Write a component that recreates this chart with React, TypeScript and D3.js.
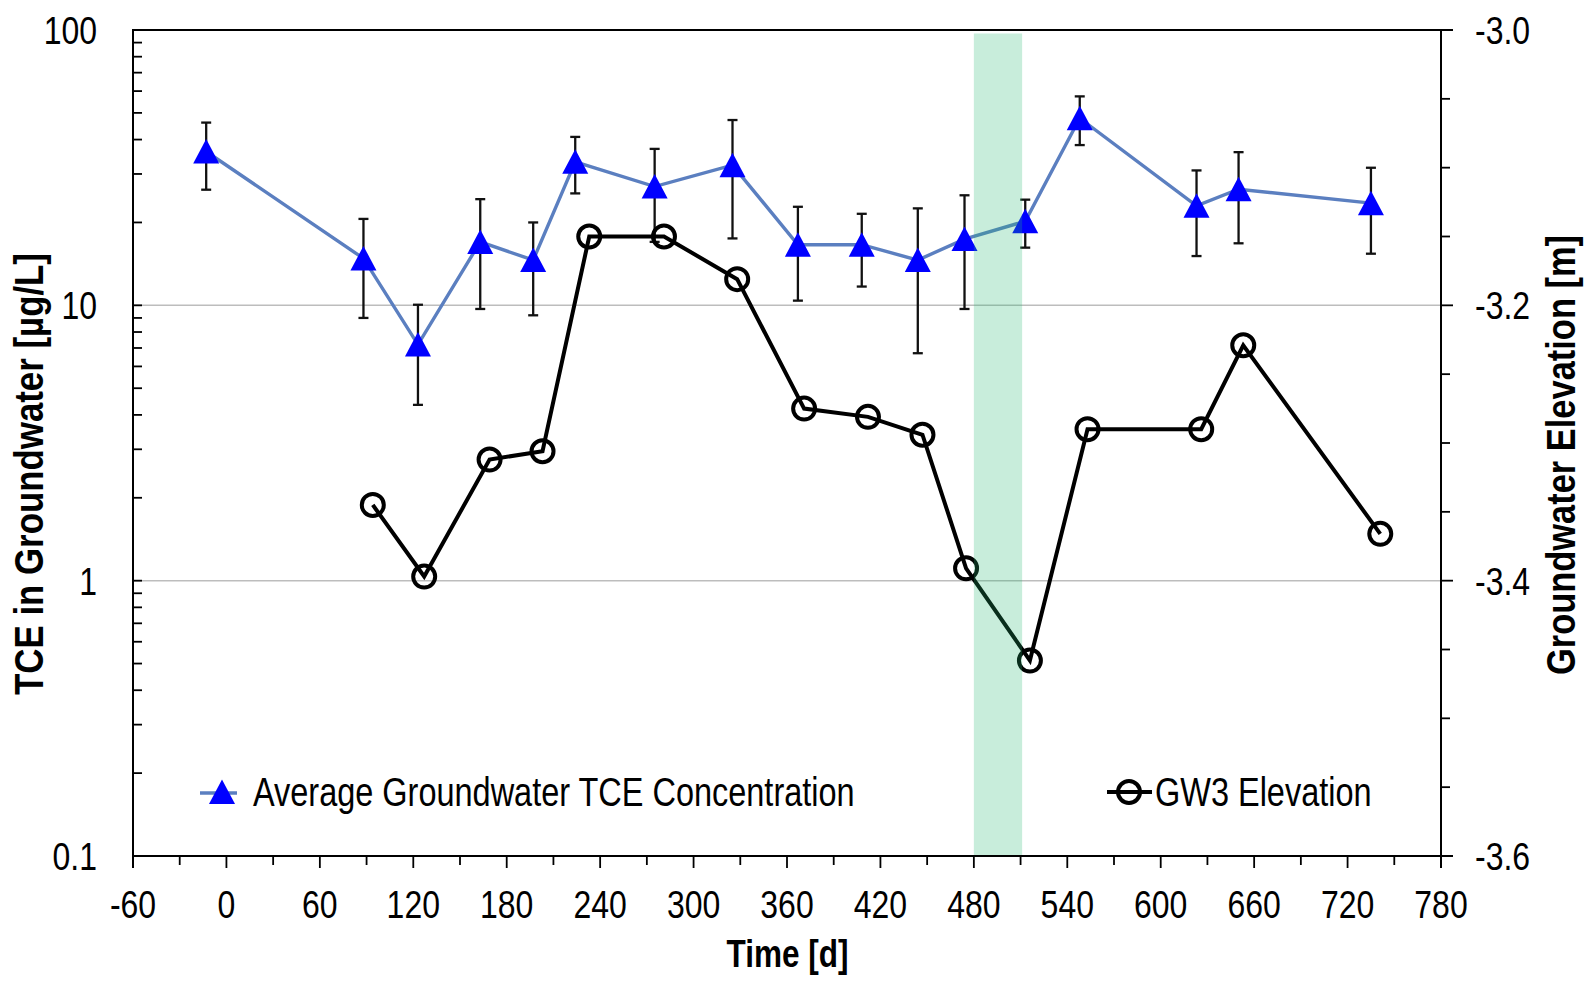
import React from "react";
import * as d3 from "d3";

// ---- data ----
const tceDays = [-13, 88, 123, 163, 197, 224, 275, 325, 367, 408, 444, 474, 513, 548, 623, 650, 735];
const tceValues = [36.2, 14.8, 7.2, 17.0, 14.6, 33.2, 27.0, 32.3, 16.6, 16.6, 14.6, 17.4, 20.2, 47.8, 23.0, 26.4, 23.5];
const tceErrors = [9.9, 5.8, 2.85, 7.3, 5.4, 7.7, 10.0, 14.8, 6.2, 4.9, 7.9, 7.7, 4.0, 9.6, 7.9, 9.6, 8.1];

const elevDays = [94, 127, 169, 203, 233, 281, 328, 371, 412, 447, 475, 516, 553, 626, 653, 741];
const elevValues = [-3.345, -3.397, -3.312, -3.306, -3.15, -3.15, -3.181, -3.275, -3.281, -3.294, -3.391, -3.458, -3.29, -3.29, -3.229, -3.366];

const bandStartDay = 480;
const bandEndDay = 511;

const xTickValues = [-60, 0, 60, 120, 180, 240, 300, 360, 420, 480, 540, 600, 660, 720, 780];
const xTickLabels = ["-60", "0", "60", "120", "180", "240", "300", "360", "420", "480", "540", "600", "660", "720", "780"];
const yLeftTickValues = [0.1, 1, 10, 100];
const yLeftTickLabels = ["0.1", "1", "10", "100"];
const yRightTickValues = [-3.6, -3.4, -3.2, -3.0];
const yRightTickLabels = ["-3.6", "-3.4", "-3.2", "-3.0"];

const seriesNames = ["Average Groundwater TCE Concentration", "GW3 Elevation"];

// ---- layout ----
const W = 1585, H = 981;
const L = 133, R = 1441, T = 30, B = 856;
const FONT = "'Liberation Sans', Arial, sans-serif";
const BLUE_LINE = "rgb(91,127,192)";
const MARKER_BLUE = "#0000ff";

const x = d3.scaleLinear().domain([-60, 780]).range([L, R]);
const yL = d3.scaleLog().domain([0.1, 100]).range([B, T]);
const yR = d3.scaleLinear().domain([-3.6, -3.0]).range([B, T]);

const xMinor = d3.range(-60, 781, 30);
const yLMinor: number[] = [];
[0.1, 1, 10].forEach((dec) => { for (let k = 2; k <= 9; k++) yLMinor.push(dec * k); });
const yRMinor = d3.range(0, 13).map((i) => -3.6 + i * 0.05);

const tri = "M0,-12.5L13,12L-13,12Z";

type NTProps = { x: number; y: number; sx: number; rot?: number; anchor?: string; size: number; bold?: boolean; children: React.ReactNode };
function NText({ x, y, sx, rot = 0, anchor = "start", size, bold, children }: NTProps) {
  return (
    <text transform={`translate(${x},${y}) rotate(${rot}) scale(${sx},1)`} textAnchor={anchor}
      fontSize={size} fontWeight={bold ? "bold" : "normal"} fill="#000">{children}</text>
  );
}

export default function App() {
  const tceLine = d3.line<number>().x((_, i) => x(tceDays[i])).y((v) => yL(v));
  const elevLine = d3.line<number>().x((_, i) => x(elevDays[i])).y((v) => yR(v));

  return (
    <svg width={W} height={H} style={{ position: "absolute", left: 0, top: 0, background: "#fff" }} fontFamily={FONT}>
      <rect x={0} y={0} width={W} height={H} fill="#fff" />
      {/* gridlines */}
      {[1, 10].map((v) => (
        <line key={v} x1={L} x2={R} y1={yL(v)} y2={yL(v)} stroke="#bdbdbd" strokeWidth={1.5} />
      ))}

      {/* TCE series */}
      <g>
        {tceValues.map((v, i) => {
          const cx = x(tceDays[i]);
          const y1 = yL(v + tceErrors[i]);
          const y2 = yL(v - tceErrors[i]);
          return (
            <g key={i} stroke="#111" strokeWidth={2.3}>
              <line x1={cx} x2={cx} y1={y1} y2={y2} />
              <line x1={cx - 5} x2={cx + 5} y1={y1} y2={y1} />
              <line x1={cx - 5} x2={cx + 5} y1={y2} y2={y2} />
            </g>
          );
        })}
        <path d={tceLine(tceValues) || ""} fill="none" stroke={BLUE_LINE} strokeWidth={3.4} />
        {tceValues.map((v, i) => (
          <path key={i} d={tri} transform={`translate(${x(tceDays[i])},${yL(v)})`} fill={MARKER_BLUE} />
        ))}
      </g>

      {/* Elevation series */}
      <g>
        <path d={elevLine(elevValues) || ""} fill="none" stroke="#000" strokeWidth={4} />
        {elevValues.map((v, i) => (
          <circle key={i} cx={x(elevDays[i])} cy={yR(v)} r={11} fill="none" stroke="#000" strokeWidth={4} />
        ))}
      </g>

      {/* green band */}
      <rect x={x(bandStartDay)} y={T + 3.5} width={x(bandEndDay) - x(bandStartDay)} height={B - T - 3.5}
        fill="rgb(36,184,112)" fillOpacity={0.25} />

      {/* axes */}
      <g stroke="#000" strokeWidth={2}>
        <line x1={L} x2={R + 12} y1={T} y2={T} />
        <line x1={L} x2={R + 12} y1={B} y2={B} />
        <line x1={L} x2={L} y1={T - 1} y2={B + 12} />
        <line x1={R} x2={R} y1={T - 1} y2={B + 12} />
        {xMinor.map((v) => (
          <line key={v} x1={x(v)} x2={x(v)} y1={B} y2={B + (v % 60 === 0 ? 12 : 9)} strokeWidth={1.8} />
        ))}
        {yLMinor.concat(yLeftTickValues).map((v, i) => (
          <line key={i} x1={L} x2={L + 9} y1={yL(v)} y2={yL(v)} strokeWidth={1.8} />
        ))}
        {yRMinor.map((v, i) => (
          <line key={i} x1={R} x2={R + (i % 4 === 0 ? 12 : 9)} y1={yR(v)} y2={yR(v)} strokeWidth={1.8} />
        ))}
      </g>

      {/* tick labels */}
      {xTickValues.map((v, i) => (
        <NText key={"x" + v} x={x(v)} y={918} sx={0.82} size={39} anchor="middle">{xTickLabels[i]}</NText>
      ))}
      {yLeftTickValues.map((v, i) => (
        <NText key={"l" + v} x={97} y={yL(v) + 14} sx={0.82} size={39} anchor="end">{yLeftTickLabels[i]}</NText>
      ))}
      {yRightTickValues.map((v, i) => (
        <NText key={"r" + v} x={1475} y={yR(v) + 14} sx={0.82} size={39} anchor="start">{yRightTickLabels[i]}</NText>
      ))}

      {/* axis titles */}
      <NText x={787.5} y={967} sx={0.83} size={38} bold anchor="middle">Time [d]</NText>
      <NText x={43} y={474} rot={-90} sx={0.85} size={41} bold anchor="middle">TCE in Groundwater [µg/L]</NText>
      <NText x={1575} y={455} rot={-90} sx={0.84} size={41} bold anchor="middle">Groundwater Elevation [m]</NText>

      {/* legend */}
      <line x1={200} x2={237} y1={793} y2={793} stroke={BLUE_LINE} strokeWidth={3.5} />
      <path d={tri} transform="translate(222,792)" fill={MARKER_BLUE} />
      <NText x={253} y={806} sx={0.812} size={40}>{seriesNames[0]}</NText>
      <line x1={1107} x2={1152} y1={792} y2={792} stroke="#000" strokeWidth={4} />
      <circle cx={1129} cy={792} r={11} fill="none" stroke="#000" strokeWidth={4} />
      <NText x={1155} y={806} sx={0.812} size={40}>{seriesNames[1]}</NText>
    </svg>
  );
}
